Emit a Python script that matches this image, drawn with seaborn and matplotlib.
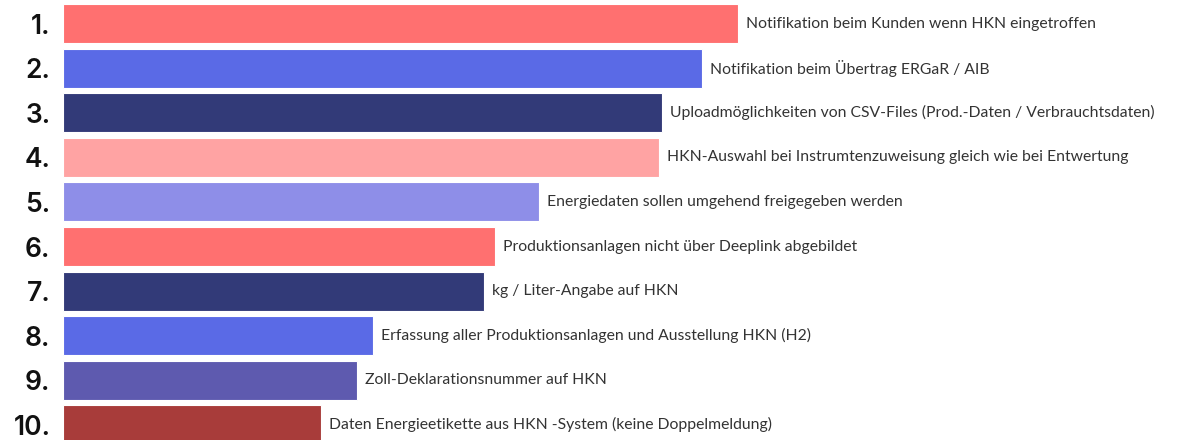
import matplotlib
matplotlib.use("Agg")
import matplotlib.pyplot as plt
import seaborn as sns
import pandas as pd

ranks = ["1.", "2.", "3.", "4.", "5.", "6.", "7.", "8.", "9.", "10."]
labels = [
    "Notifikation beim Kunden wenn HKN eingetroffen",
    "Notifikation beim Übertrag ERGaR / AIB",
    "Uploadmöglichkeiten von CSV-Files (Prod.-Daten / Verbrauchtsdaten)",
    "HKN-Auswahl bei Instrumtenzuweisung gleich wie bei Entwertung",
    "Energiedaten sollen umgehend freigegeben werden",
    "Produktionsanlagen nicht über Deeplink abgebildet",
    "kg / Liter-Angabe auf HKN",
    "Erfassung aller Produktionsanlagen und Ausstellung HKN (H2)",
    "Zoll-Deklarationsnummer auf HKN",
    "Daten Energieetikette aus HKN -System (keine Doppelmeldung)",
]
values = [675, 639, 599, 596, 476, 432, 421, 310, 294, 258]
colors = ["#FF7070", "#5A6AE6", "#323A78", "#FFA3A3", "#8E8EE8",
          "#FF7070", "#323A78", "#5A6AE6", "#5E5AAF", "#A83C3A"]

df = pd.DataFrame({"rank": ranks, "label": labels, "value": values})

sns.set_style("white")
plt.rcParams["font.family"] = ["Lato", "DejaVu Sans"]

fig = plt.figure(figsize=(11.78, 4.40), dpi=100)
ax = fig.add_axes([63 / 1178, 0, 1 - 63 / 1178, 1])

sns.barplot(data=df, x="value", y="rank", hue="rank", palette=colors,
            saturation=1, legend=False, width=0.875, ax=ax,
            edgecolor="white", linewidth=0.8)

ax.set_xlim(0, 1115)
ax.set_ylim(9.338, -0.527)

for i, (v, lab) in enumerate(zip(values, labels)):
    ax.text(v + 8, i, lab, va="center", ha="left", fontsize=11.3, color="#333333")

ax.set_xlabel("")
ax.set_ylabel("")
ax.set_xticks([])
ax.tick_params(axis="y", length=0, pad=9, labelsize=19, labelcolor="#111111")
for t in ax.get_yticklabels():
    t.set_family(["Inter", "DejaVu Sans"])
    t.set_fontweight("semibold")
sns.despine(ax=ax, left=True, bottom=True)

fig.savefig("out.png", dpi=100)
